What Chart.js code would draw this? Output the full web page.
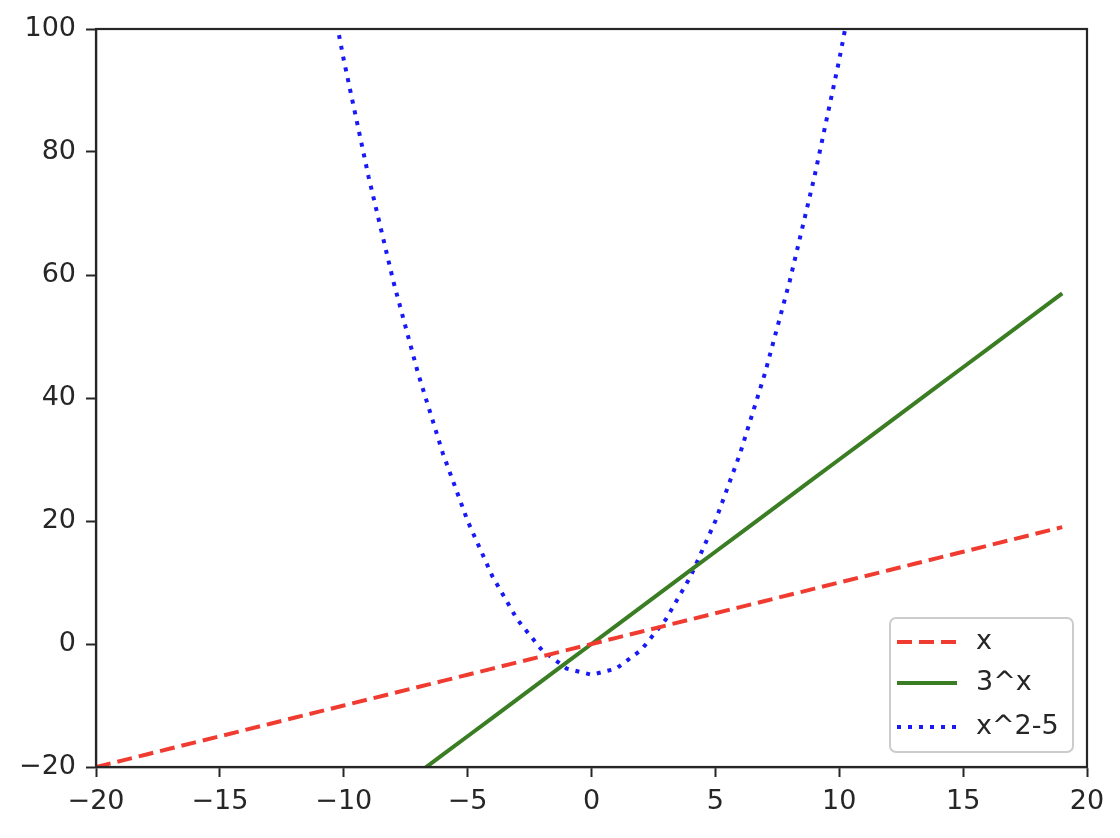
<!DOCTYPE html>
<html>
<head>
<meta charset="utf-8">
<script src="https://cdn.jsdelivr.net/npm/chart.js@4"></script>
<style>
  body { margin: 0; background: #fff; }
  #wrap { width: 1120px; height: 838px; }
</style>
</head>
<body>
<div id="wrap"><canvas id="funcChart" width="1120" height="838"></canvas></div>
<script>
// x values and the three series
const xValues = [-20, -19, -18, -17, -16, -15, -14, -13, -12, -11, -10, -9, -8, -7, -6, -5, -4, -3, -2, -1,
                 0, 1, 2, 3, 4, 5, 6, 7, 8, 9, 10, 11, 12, 13, 14, 15, 16, 17, 18, 19];
const lineX = [-20, -19, -18, -17, -16, -15, -14, -13, -12, -11, -10, -9, -8, -7, -6, -5, -4, -3, -2, -1,
               0, 1, 2, 3, 4, 5, 6, 7, 8, 9, 10, 11, 12, 13, 14, 15, 16, 17, 18, 19];
const line3x = [-60, -57, -54, -51, -48, -45, -42, -39, -36, -33, -30, -27, -24, -21, -18, -15, -12, -9, -6, -3,
                0, 3, 6, 9, 12, 15, 18, 21, 24, 27, 30, 33, 36, 39, 42, 45, 48, 51, 54, 57];
const lineSq = [395, 356, 319, 284, 251, 220, 191, 164, 139, 116, 95, 76, 59, 44, 31, 20, 11, 4, -1, -4,
                -5, -4, -1, 4, 11, 20, 31, 44, 59, 76, 95, 116, 139, 164, 191, 220, 251, 284, 319, 356];
const seriesLabels = ['x', '3^x', 'x^2-5'];
const xTicks = [-20, -15, -10, -5, 0, 5, 10, 15, 20];
const yTicks = [-20, 0, 20, 40, 60, 80, 100];

const toPoints = ys => ys.map((y, i) => ({ x: xValues[i], y: y }));
const minus = v => String(v).replace('-', '\u2212');
const font = { family: 'DejaVu Sans', size: 27 };
const ink = '#262626';

// frame around the plot area (top and right spines)
const framePlugin = {
    id: 'frame',
    afterDatasetsDraw(chart) {
        const { ctx, chartArea: a } = chart;
        ctx.save();
        ctx.strokeStyle = ink;
        ctx.lineWidth = 2.2;
        ctx.strokeRect(a.left, a.top, a.right - a.left, a.bottom - a.top);
        ctx.restore();
    }
};

// legend box in the lower right corner of the plot
const legendPlugin = {
    id: 'boxLegend',
    afterDraw(chart) {
        const { ctx, chartArea: a } = chart;
        const w = 183, h = 134;
        const x0 = a.right - 14 - w, y0 = a.bottom - 15 - h;
        ctx.save();
        ctx.beginPath();
        ctx.roundRect(x0, y0, w, h, 6);
        ctx.fillStyle = 'rgba(255,255,255,0.85)';
        ctx.fill();
        ctx.strokeStyle = '#cccccc';
        ctx.lineWidth = 2;
        ctx.stroke();
        const rows = [24, 65, 109];
        chart.data.datasets.forEach((ds, i) => {
            const yy = y0 + rows[i];
            ctx.beginPath();
            ctx.setLineDash(ds.borderDash || []);
            ctx.strokeStyle = ds.borderColor;
            ctx.lineWidth = ds.borderWidth;
            ctx.moveTo(x0 + 7, yy);
            ctx.lineTo(x0 + 67, yy);
            ctx.stroke();
            ctx.setLineDash([]);
            ctx.fillStyle = ink;
            ctx.font = '27px "DejaVu Sans"';
            ctx.textBaseline = 'middle';
            ctx.fillText(ds.label, x0 + 86, yy);
        });
        ctx.restore();
    }
};

new Chart(document.getElementById('funcChart').getContext('2d'), {
    type: 'line',
    data: {
        datasets: [{
            label: seriesLabels[0],
            data: toPoints(lineX),
            borderColor: 'rgb(240,60,48)',
            borderWidth: 4,
            borderDash: [15, 7],
            pointRadius: 0
        }, {
            label: seriesLabels[1],
            data: toPoints(line3x),
            borderColor: 'rgb(58,125,35)',
            borderWidth: 4,
            pointRadius: 0
        }, {
            label: seriesLabels[2],
            data: toPoints(lineSq),
            borderColor: 'rgb(25,25,245)',
            borderWidth: 4,
            borderDash: [4, 7],
            pointRadius: 0
        }]
    },
    options: {
        responsive: false,
        animation: false,
        layout: { padding: { top: 29, right: 33, left: 0, bottom: 0 } },
        scales: {
            x: {
                type: 'linear',
                min: -20,
                max: 20,
                afterBuildTicks: s => { s.ticks = xTicks.map(v => ({ value: v })); },
                afterFit: s => { s.height = 71; },
                grid: { drawOnChartArea: false, tickLength: 10, tickWidth: 2, tickColor: ink },
                border: { color: ink, width: 2.2 },
                ticks: { color: ink, font: font, padding: 9, maxRotation: 0, callback: v => minus(v) }
            },
            y: {
                min: -20,
                max: 100,
                afterBuildTicks: s => { s.ticks = yTicks.map(v => ({ value: v })); },
                afterFit: s => { s.width = 96; },
                grid: { drawOnChartArea: false, tickLength: 10, tickWidth: 2, tickColor: ink },
                border: { color: ink, width: 2.2 },
                ticks: { color: ink, font: font, padding: 10, callback: v => minus(v) }
            }
        },
        plugins: {
            legend: { display: false },
            tooltip: { enabled: false }
        }
    },
    plugins: [framePlugin, legendPlugin]
});
</script>
</body>
</html>
